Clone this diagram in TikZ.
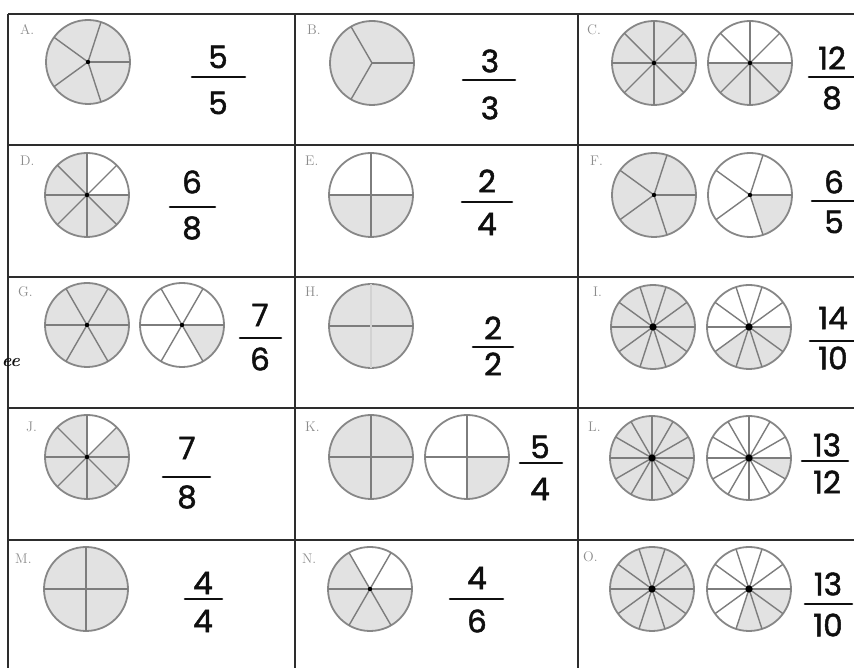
\documentclass[tikz,border=0pt]{standalone}
\usepackage{fontspec}
\usepackage{tikz}
\usetikzlibrary{backgrounds}
\newfontfamily\handfont[FakeBold=1.6]{Poppins}
\definecolor{griddark}{RGB}{45,45,45}
\definecolor{rimgray}{RGB}{135,135,135}
\definecolor{spokegray}{RGB}{125,125,125}
\definecolor{pieshade}{RGB}{226,226,226}
\definecolor{labelgray}{RGB}{140,140,140}
\definecolor{inkblack}{RGB}{15,15,15}
\tikzset{
  pie/.style={circle, draw=rimgray, minimum size=84, inner sep=0pt,
    outer sep=0pt, line width=1.8pt},
  fullpie/.style={pie, fill=pieshade},
  sectorfill/.style={fill=pieshade},
  spoke/.style={draw=spokegray, line width=1.4pt},
  hubdot/.style={fill=black},
  digit/.style={font=\handfont\fontsize{31}{31}\selectfont, text=inkblack,
    inner sep=0pt},
  fracbar/.style={draw=inkblack, line width=2.6pt, line cap=round},
  cellabel/.style={anchor=west, font=\fontsize{14}{14}\selectfont,
    text=labelgray, inner sep=0pt},
  gridline/.style={draw=griddark, line width=2.4pt}
}

\begin{document}
\begin{tikzpicture}[x=1pt, y=1pt]
  \useasboundingbox (0,0) rectangle (854,668);

  % Grid
  \foreach \y in {654,523,391,260,128}
    \draw[gridline] (8,\y) -- (862,\y);
  \foreach \x in {8,295,578}
    \draw[gridline] (\x,654) -- (\x,-10);

  % Cell labels
  \node[cellabel] (la) at (20,638) {A.};
  \node[cellabel] (lb) at (307,638) {B.};
  \node[cellabel] (lc) at (587,638) {C.};
  \node[cellabel] (ld) at (20,507) {D.};
  \node[cellabel] (le) at (305,507) {E.};
  \node[cellabel] (lf) at (590,507) {F.};
  \node[cellabel] (lg) at (18,376) {G.};
  \node[cellabel] (lh) at (305,376) {H.};
  \node[cellabel] (li) at (593,376) {I.};
  \node[cellabel] (lj) at (26,241) {J.};
  \node[cellabel] (lk) at (305,241) {K.};
  \node[cellabel] (ll) at (588,241) {L.};
  \node[cellabel] (lm) at (15,109) {M.};
  \node[cellabel] (ln) at (302,109) {N.};
  \node[cellabel] (lo) at (583,111) {O.};

  % Circles
  \node[fullpie] (a)  at (88,606)  {};
  \node[fullpie] (b)  at (372,605) {};
  \node[fullpie] (c1) at (654,605) {};
  \node[pie]     (c2) at (750,605) {};
  \node[pie]     (d)  at (87,473)  {};
  \node[pie]     (e)  at (371,473) {};
  \node[fullpie] (f1) at (654,473) {};
  \node[pie]     (f2) at (750,473) {};
  \node[fullpie] (g1) at (87,343)  {};
  \node[pie]     (g2) at (182,343) {};
  \node[fullpie] (h)  at (371,342) {};
  \node[fullpie] (i1) at (653,341) {};
  \node[pie]     (i2) at (749,341) {};
  \node[pie]     (j)  at (87,211)  {};
  \node[fullpie] (k1) at (371,211) {};
  \node[pie]     (k2) at (467,211) {};
  \node[fullpie] (l1) at (652,210) {};
  \node[pie]     (l2) at (749,210) {};
  \node[fullpie] (m)  at (86,79)   {};
  \node[pie]     (n)  at (370,79)  {};
  \node[fullpie] (o1) at (652,79)  {};
  \node[pie]     (o2) at (749,79)  {};

  % Shaded parts of the partly filled circles
  \begin{scope}[on background layer]
    \foreach \n/\s/\t in {c2/180/360, d/90/360, e/180/360, f2/288/360,
        g2/300/360, i2/216/360, j/90/405, k2/270/360, l2/330/360,
        n/120/360, o2/252/360}
      \fill[sectorfill] (\n.center) -- ++(\s:42)
        arc[start angle=\s, end angle=\t, radius=42] -- cycle;
  \end{scope}

  % Spokes
  \foreach \n/\k in {a/5, b/3, c1/8, c2/8, d/8, e/4, f1/5, f2/5, g1/6,
      g2/6, h/2, i1/10, i2/10, j/8, k1/4, k2/4, l1/12, l2/12, m/4, n/6,
      o1/10, o2/10}
    \foreach \i in {1,...,\k}
      \draw[spoke] (\n.center) -- ++({360/\k*\i}:42);
  \draw[spoke, spokegray!35] (h.north) -- (h.south);

  % Hubs
  \foreach \n in {a, c1, c2, d, f1, f2, g1, g2, j, n}
    \fill[hubdot] (\n.center) circle[radius=2.2];
  \foreach \n in {i1, i2, l1, l2, o1, o2}
    \fill[hubdot] (\n.center) circle[radius=3.6];

  % Fractions
  \node[digit] (anum) at (218,611) {5};
  \node[digit] (aden) at (218,565) {5};
  \draw[fracbar] (192,591) -- (245,591);
  \node[digit] (bnum) at (490,607) {3};
  \node[digit] (bden) at (490,560) {3};
  \draw[fracbar] (463,588) -- (515,588);
  \node[digit] (cnum) at (832,610) {12};
  \node[digit] (cden) at (832,570) {8};
  \draw[fracbar] (809,591) -- (858,591);
  \node[digit] (dnum) at (192,486) {6};
  \node[digit] (dden) at (192,440) {8};
  \draw[fracbar] (170,461) -- (215,461);
  \node[digit] (enum) at (487,487) {2};
  \node[digit] (eden) at (487,444) {4};
  \draw[fracbar] (462,466) -- (512,466);
  \node[digit] (fnum) at (834,486) {6};
  \node[digit] (fden) at (834,446) {5};
  \draw[fracbar] (812,467) -- (858,467);
  \node[digit] (gnum) at (260,353) {7};
  \node[digit] (gden) at (260,309) {6};
  \draw[fracbar] (240,330) -- (281,330);
  \node[digit] (hnum) at (493,340) {2};
  \node[digit] (hden) at (493,304) {2};
  \draw[fracbar] (473,321) -- (513,321);
  \node[digit] (inum) at (833,350) {14};
  \node[digit] (iden) at (833,310) {10};
  \draw[fracbar] (810,327) -- (858,327);
  \node[digit] (jnum) at (187,220) {7};
  \node[digit] (jden) at (187,171) {8};
  \draw[fracbar] (163,191) -- (210,191);
  \node[digit] (knum) at (540,221) {5};
  \node[digit] (kden) at (540,179) {4};
  \draw[fracbar] (520,205) -- (562,205);
  \node[digit] (lnum) at (827,223) {13};
  \node[digit] (lden) at (827,186) {12};
  \draw[fracbar] (802,207) -- (848,207);
  \node[digit] (mnum) at (203,85)  {4};
  \node[digit] (mden) at (203,47)  {4};
  \draw[fracbar] (185,69) -- (222,69);
  \node[digit] (nnum) at (477,90)  {4};
  \node[digit] (nden) at (477,47)  {6};
  \draw[fracbar] (450,69) -- (503,69);
  \node[digit] (onum) at (828,84)  {13};
  \node[digit] (oden) at (828,43)  {10};
  \draw[fracbar] (805,64) -- (852,64);

  % Stray handwriting at the left edge
  \node[font=\itshape\bfseries\fontsize{18}{18}\selectfont, text=inkblack,
    inner sep=0pt] (stray) at (11,305) {ee};
\end{tikzpicture}
\end{document}
